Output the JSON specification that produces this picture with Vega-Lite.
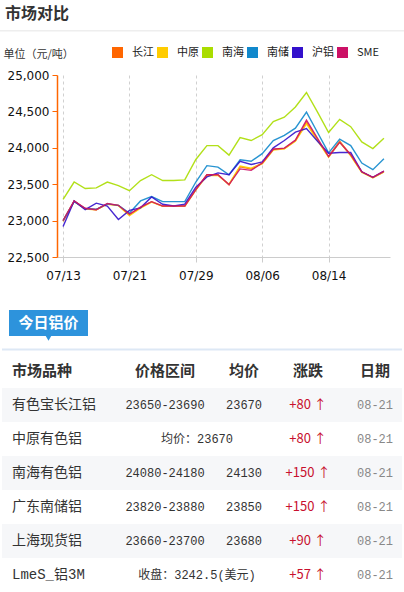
{
"$schema": "https://vega.github.io/schema/vega-lite/v6.json",
"background": "white",
"padding": {"left": 0, "top": 6, "right": 0, "bottom": 0},
"title": {"text": "市场对比", "anchor": "start", "fontSize": 16, "fontWeight": "bold", "font": "Noto Sans CJK SC", "color": "#333333", "offset": 8, "dx": 5},
"spacing": 29,
"resolve": {"scale": {"color": "independent"}, "legend": {"color": "independent"}},
"datasets": {
"lines": [
{"date":"07/13","series":"长江","price":23000},{"date":"07/14","series":"长江","price":23270},{"date":"07/15","series":"长江","price":23165},{"date":"07/16","series":"长江","price":23150},{"date":"07/17","series":"长江","price":23230},{"date":"07/20","series":"长江","price":23210},{"date":"07/21","series":"长江","price":23080},{"date":"07/22","series":"长江","price":23180},{"date":"07/23","series":"长江","price":23260},{"date":"07/24","series":"长江","price":23200},{"date":"07/27","series":"长江","price":23200},{"date":"07/28","series":"长江","price":23200},{"date":"07/29","series":"长江","price":23430},{"date":"07/30","series":"长江","price":23630},{"date":"07/31","series":"长江","price":23630},{"date":"08/03","series":"长江","price":23490},{"date":"08/04","series":"长江","price":23740},{"date":"08/05","series":"长江","price":23710},{"date":"08/06","series":"长江","price":23790},{"date":"08/07","series":"长江","price":23980},{"date":"08/10","series":"长江","price":23990},{"date":"08/11","series":"长江","price":24100},{"date":"08/12","series":"长江","price":24350},{"date":"08/13","series":"长江","price":24110},{"date":"08/14","series":"长江","price":23880},{"date":"08/17","series":"长江","price":24090},{"date":"08/18","series":"长江","price":23900},{"date":"08/19","series":"长江","price":23670},{"date":"08/20","series":"长江","price":23590},{"date":"08/21","series":"长江","price":23670},
{"date":"07/13","series":"中原","price":22990},{"date":"07/14","series":"中原","price":23265},{"date":"07/15","series":"中原","price":23160},{"date":"07/16","series":"中原","price":23150},{"date":"07/17","series":"中原","price":23225},{"date":"07/20","series":"中原","price":23205},{"date":"07/21","series":"中原","price":23070},{"date":"07/22","series":"中原","price":23170},{"date":"07/23","series":"中原","price":23255},{"date":"07/24","series":"中原","price":23195},{"date":"07/27","series":"中原","price":23195},{"date":"07/28","series":"中原","price":23195},{"date":"07/29","series":"中原","price":23420},{"date":"07/30","series":"中原","price":23620},{"date":"07/31","series":"中原","price":23620},{"date":"08/03","series":"中原","price":23500},{"date":"08/04","series":"中原","price":23750},{"date":"08/05","series":"中原","price":23720},{"date":"08/06","series":"中原","price":23780},{"date":"08/07","series":"中原","price":23970},{"date":"08/10","series":"中原","price":23985},{"date":"08/11","series":"中原","price":24090},{"date":"08/12","series":"中原","price":24330},{"date":"08/13","series":"中原","price":24100},{"date":"08/14","series":"中原","price":23870},{"date":"08/17","series":"中原","price":24080},{"date":"08/18","series":"中原","price":23890},{"date":"08/19","series":"中原","price":23660},{"date":"08/20","series":"中原","price":23590},{"date":"08/21","series":"中原","price":23670},
{"date":"07/13","series":"南海","price":23290},{"date":"07/14","series":"南海","price":23530},{"date":"07/15","series":"南海","price":23440},{"date":"07/16","series":"南海","price":23450},{"date":"07/17","series":"南海","price":23530},{"date":"07/20","series":"南海","price":23480},{"date":"07/21","series":"南海","price":23410},{"date":"07/22","series":"南海","price":23550},{"date":"07/23","series":"南海","price":23630},{"date":"07/24","series":"南海","price":23550},{"date":"07/27","series":"南海","price":23550},{"date":"07/28","series":"南海","price":23560},{"date":"07/29","series":"南海","price":23840},{"date":"07/30","series":"南海","price":24030},{"date":"07/31","series":"南海","price":24030},{"date":"08/03","series":"南海","price":23900},{"date":"08/04","series":"南海","price":24140},{"date":"08/05","series":"南海","price":24100},{"date":"08/06","series":"南海","price":24180},{"date":"08/07","series":"南海","price":24360},{"date":"08/10","series":"南海","price":24420},{"date":"08/11","series":"南海","price":24560},{"date":"08/12","series":"南海","price":24760},{"date":"08/13","series":"南海","price":24490},{"date":"08/14","series":"南海","price":24210},{"date":"08/17","series":"南海","price":24390},{"date":"08/18","series":"南海","price":24290},{"date":"08/19","series":"南海","price":24080},{"date":"08/20","series":"南海","price":23990},{"date":"08/21","series":"南海","price":24130},
{"date":"07/13","series":"南储","price":23000},{"date":"07/14","series":"南储","price":23260},{"date":"07/15","series":"南储","price":23165},{"date":"07/16","series":"南储","price":23155},{"date":"07/17","series":"南储","price":23230},{"date":"07/20","series":"南储","price":23210},{"date":"07/21","series":"南储","price":23105},{"date":"07/22","series":"南储","price":23270},{"date":"07/23","series":"南储","price":23330},{"date":"07/24","series":"南储","price":23260},{"date":"07/27","series":"南储","price":23260},{"date":"07/28","series":"南储","price":23260},{"date":"07/29","series":"南储","price":23530},{"date":"07/30","series":"南储","price":23755},{"date":"07/31","series":"南储","price":23735},{"date":"08/03","series":"南储","price":23630},{"date":"08/04","series":"南储","price":23835},{"date":"08/05","series":"南储","price":23815},{"date":"08/06","series":"南储","price":23920},{"date":"08/07","series":"南储","price":24100},{"date":"08/10","series":"南储","price":24170},{"date":"08/11","series":"南储","price":24270},{"date":"08/12","series":"南储","price":24490},{"date":"08/13","series":"南储","price":24210},{"date":"08/14","series":"南储","price":23930},{"date":"08/17","series":"南储","price":24120},{"date":"08/18","series":"南储","price":24030},{"date":"08/19","series":"南储","price":23790},{"date":"08/20","series":"南储","price":23700},{"date":"08/21","series":"南储","price":23850},
{"date":"07/13","series":"沪铝","price":22920},{"date":"07/14","series":"沪铝","price":23270},{"date":"07/15","series":"沪铝","price":23150},{"date":"07/16","series":"沪铝","price":23240},{"date":"07/17","series":"沪铝","price":23200},{"date":"07/20","series":"沪铝","price":23015},{"date":"07/21","series":"沪铝","price":23140},{"date":"07/22","series":"沪铝","price":23175},{"date":"07/23","series":"沪铝","price":23325},{"date":"07/24","series":"沪铝","price":23225},{"date":"07/27","series":"沪铝","price":23200},{"date":"07/28","series":"沪铝","price":23225},{"date":"07/29","series":"沪铝","price":23460},{"date":"07/30","series":"沪铝","price":23600},{"date":"07/31","series":"沪铝","price":23655},{"date":"08/03","series":"沪铝","price":23630},{"date":"08/04","series":"沪铝","price":23815},{"date":"08/05","series":"沪铝","price":23770},{"date":"08/06","series":"沪铝","price":23805},{"date":"08/07","series":"沪铝","price":24000},{"date":"08/10","series":"沪铝","price":24100},{"date":"08/11","series":"沪铝","price":24215},{"date":"08/12","series":"沪铝","price":24265},{"date":"08/13","series":"沪铝","price":24090},{"date":"08/14","series":"沪铝","price":23925},{"date":"08/17","series":"沪铝","price":23935},{"date":"08/18","series":"沪铝","price":23935},{"date":"08/19","series":"沪铝","price":23670},{"date":"08/20","series":"沪铝","price":23595},{"date":"08/21","series":"沪铝","price":23680},
{"date":"07/13","series":"SME","price":23000},{"date":"07/14","series":"SME","price":23270},{"date":"07/15","series":"SME","price":23170},{"date":"07/16","series":"SME","price":23150},{"date":"07/17","series":"SME","price":23235},{"date":"07/20","series":"SME","price":23210},{"date":"07/21","series":"SME","price":23090},{"date":"07/22","series":"SME","price":23185},{"date":"07/23","series":"SME","price":23260},{"date":"07/24","series":"SME","price":23200},{"date":"07/27","series":"SME","price":23200},{"date":"07/28","series":"SME","price":23200},{"date":"07/29","series":"SME","price":23425},{"date":"07/30","series":"SME","price":23630},{"date":"07/31","series":"SME","price":23630},{"date":"08/03","series":"SME","price":23495},{"date":"08/04","series":"SME","price":23710},{"date":"08/05","series":"SME","price":23690},{"date":"08/06","series":"SME","price":23790},{"date":"08/07","series":"SME","price":23980},{"date":"08/10","series":"SME","price":23995},{"date":"08/11","series":"SME","price":24105},{"date":"08/12","series":"SME","price":24380},{"date":"08/13","series":"SME","price":24130},{"date":"08/14","series":"SME","price":23880},{"date":"08/17","series":"SME","price":24075},{"date":"08/18","series":"SME","price":23905},{"date":"08/19","series":"SME","price":23670},{"date":"08/20","series":"SME","price":23595},{"date":"08/21","series":"SME","price":23680}
],
"table": [
{"row":0,"col":0,"kind":"head","text":"市场品种"},
{"row":0,"col":1,"kind":"head","text":"价格区间"},
{"row":0,"col":2,"kind":"head","text":"均价"},
{"row":0,"col":3,"kind":"head","text":"涨跌"},
{"row":0,"col":4,"kind":"head","text":"日期"},
{"row":1,"col":0,"kind":"name","text":"有色宝长江铝"},
{"row":1,"col":1,"kind":"num","text":"23650-23690"},
{"row":1,"col":2,"kind":"num","text":"23670"},
{"row":1,"col":3,"kind":"chg","text":"+80 ↑"},
{"row":1,"col":4,"kind":"date","text":"08-21"},
{"row":2,"col":0,"kind":"name","text":"中原有色铝"},
{"row":2,"col":1.5,"kind":"num","text":"均价：23670"},
{"row":2,"col":3,"kind":"chg","text":"+80 ↑"},
{"row":2,"col":4,"kind":"date","text":"08-21"},
{"row":3,"col":0,"kind":"name","text":"南海有色铝"},
{"row":3,"col":1,"kind":"num","text":"24080-24180"},
{"row":3,"col":2,"kind":"num","text":"24130"},
{"row":3,"col":3,"kind":"chg","text":"+150 ↑"},
{"row":3,"col":4,"kind":"date","text":"08-21"},
{"row":4,"col":0,"kind":"name","text":"广东南储铝"},
{"row":4,"col":1,"kind":"num","text":"23820-23880"},
{"row":4,"col":2,"kind":"num","text":"23850"},
{"row":4,"col":3,"kind":"chg","text":"+150 ↑"},
{"row":4,"col":4,"kind":"date","text":"08-21"},
{"row":5,"col":0,"kind":"name","text":"上海现货铝"},
{"row":5,"col":1,"kind":"num","text":"23660-23700"},
{"row":5,"col":2,"kind":"num","text":"23680"},
{"row":5,"col":3,"kind":"chg","text":"+90 ↑"},
{"row":5,"col":4,"kind":"date","text":"08-21"},
{"row":6,"col":0,"kind":"name","text":"LmeS_铝3M"},
{"row":6,"col":1.5,"kind":"num","text":"收盘：3242.5(美元)"},
{"row":6,"col":3,"kind":"chg","text":"+57 ↑"},
{"row":6,"col":4,"kind":"date","text":"08-21"}
],
"tab": [{"tab": "今日铝价"}],
"sep": [{"part": "separator"}]
},
"vconcat": [
{
"width": 333, "height": 182,
"resolve": {"scale": {"x": "independent", "y": "independent"}},
"layer": [
{
"data": {"name": "lines"},
"mark": {"type": "line", "strokeWidth": 1.4, "opacity": 0.9},
"encoding": {
"x": {"field": "date", "type": "ordinal", "sort": null, "scale": {"type": "point", "padding": 0.55},
"axis": {"orient": "bottom", "values": ["07/13","07/21","07/29","08/06","08/14"], "labelAngle": 0, "title": null, "grid": true, "gridDash": [3,3], "gridColor": "#d0d0d0", "domainColor": "#cccccc", "tickColor": "#cccccc", "tickSize": 5, "labelPadding": 8, "labelFontSize": 12, "labelColor": "#111111", "labelFont": "DejaVu Sans"}},
"y": {"field": "price", "type": "quantitative", "scale": {"domain": [22500, 25000], "nice": false, "zero": false},
"axis": {"orient": "left", "values": [22500,23000,23500,24000,24500,25000], "format": ",d", "grid": false, "domainColor": "#ff6600", "domainWidth": 1.5, "tickColor": "#ff6600", "tickSize": 5, "labelPadding": 3, "labelFontSize": 12, "labelColor": "#111111", "labelFont": "DejaVu Sans", "title": "单位（元/吨）", "titleAngle": 0, "titleAlign": "left", "titleBaseline": "middle", "titleX": -54, "titleY": -21, "titleFontSize": 11, "titleFontWeight": "normal", "titleFont": "Noto Sans CJK SC", "titleColor": "#333333"}},
"color": {"field": "series", "type": "nominal",
"scale": {"domain": ["长江","中原","南海","南储","沪铝","SME"], "range": ["#ff6600","#ffcc00","#aadd00","#1188cc","#3311cc","#cc1166"]},
"legend": {"orient": "none", "legendX": 55, "legendY": -28, "direction": "horizontal", "title": null, "symbolType": "square", "symbolSize": 1, "symbolStrokeWidth": 10, "symbolOpacity": 1, "labelFontSize": 11, "labelFont": "Noto Sans CJK SC", "labelColor": "#222222", "columnPadding": -12, "labelOffset": 9}}
}
},
{
"data": {"name": "sep"},
"mark": {"type": "rect", "color": "#eeeeee"},
"encoding": {
"x": {"field": "part", "type": "nominal", "scale": {"type": "band", "range": [-57, 347], "paddingInner": 0, "paddingOuter": 0}, "axis": null},
"y": {"field": "part", "type": "nominal", "scale": {"type": "band", "range": [-45, -43.6], "paddingInner": 0, "paddingOuter": 0}, "axis": null}
}
}
]
},
{
"width": 347, "height": 282,
"data": {"name": "table"},
"resolve": {"scale": {"x": "independent", "y": "independent"}},
"layer": [
{"transform": [{"filter": "datum.kind == 'name' && datum.row % 2 == 1"}],
"mark": {"type": "rect", "color": "#f6f7f9"},
"encoding": {"x": {"field": "kind", "type": "nominal", "scale": {"type": "band", "range": [-55, 345], "paddingInner": 0, "paddingOuter": 0}, "axis": null},
"y": {"field": "row", "type": "ordinal", "scale": {"type": "band", "domain": [0,1,2,3,4,5,6], "range": [44, 282], "paddingInner": 0, "paddingOuter": 0}, "axis": null}}},
{"transform": [{"filter": "datum.row == 0 && datum.col == 0"}],
"mark": {"type": "rect", "color": "#dde8f5"},
"encoding": {"x": {"field": "kind", "type": "nominal", "scale": {"type": "band", "range": [-55, 345], "paddingInner": 0, "paddingOuter": 0}, "axis": null},
"y": {"field": "kind", "type": "nominal", "scale": {"type": "band", "range": [38.5, 40.5], "paddingInner": 0, "paddingOuter": 0}, "axis": null}}},
{"data": {"name": "tab"},
"mark": {"type": "rect", "color": "#2d93dc"},
"encoding": {"x": {"field": "tab", "type": "nominal", "scale": {"type": "band", "range": [-48, 31], "paddingInner": 0, "paddingOuter": 0}, "axis": null},
"y": {"field": "tab", "type": "nominal", "scale": {"type": "band", "range": [0, 26], "paddingInner": 0, "paddingOuter": 0}, "axis": null}}},
{"data": {"name": "tab"},
"mark": {"type": "point", "shape": "triangle-down", "filled": true, "color": "#2d93dc", "size": 40, "yOffset": 15, "opacity": 1},
"encoding": {"x": {"field": "tab", "type": "nominal", "scale": {"type": "band", "range": [-48, 31], "paddingInner": 0, "paddingOuter": 0}, "axis": null},
"y": {"field": "tab", "type": "nominal", "scale": {"type": "band", "range": [0, 26], "paddingInner": 0, "paddingOuter": 0}, "axis": null}}},
{"data": {"name": "tab"},
"mark": {"type": "text", "color": "#ffffff", "fontSize": 15, "fontWeight": "bold", "font": "Noto Sans CJK SC", "baseline": "middle"},
"encoding": {"x": {"field": "tab", "type": "nominal", "scale": {"type": "band", "range": [-48, 31], "paddingInner": 0, "paddingOuter": 0}, "axis": null},
"y": {"field": "tab", "type": "nominal", "scale": {"type": "band", "range": [0, 26], "paddingInner": 0, "paddingOuter": 0}, "axis": null},
"text": {"field": "tab"}}},
{"transform": [{"filter": "datum.kind == 'head' && datum.col == 0"}],
"mark": {"type": "text", "align": "left", "baseline": "middle", "fontSize": 15, "fontWeight": "bold", "font": "Noto Sans CJK SC", "color": "#333333"},
"encoding": {"x": {"field": "col", "type": "quantitative", "scale": {"domain": [0,1,1.5,2,3,4], "range": [-45,108,140,187,251,318]}, "axis": null},
"y": {"field": "row", "type": "ordinal", "scale": {"type": "band", "domain": [0,1,2,3,4,5,6], "range": [44, 282], "paddingInner": 0, "paddingOuter": 0}, "axis": null},
"text": {"field": "text"}}},
{"transform": [{"filter": "datum.kind == 'head' && datum.col > 0"}],
"mark": {"type": "text", "align": "center", "baseline": "middle", "fontSize": 15, "fontWeight": "bold", "font": "Noto Sans CJK SC", "color": "#333333"},
"encoding": {"x": {"field": "col", "type": "quantitative", "scale": {"domain": [0,1,1.5,2,3,4], "range": [-45,108,140,187,251,318]}, "axis": null},
"y": {"field": "row", "type": "ordinal", "scale": {"type": "band", "domain": [0,1,2,3,4,5,6], "range": [44, 282], "paddingInner": 0, "paddingOuter": 0}, "axis": null},
"text": {"field": "text"}}},
{"transform": [{"filter": "datum.kind == 'name'"}],
"mark": {"type": "text", "align": "left", "baseline": "middle", "fontSize": 14, "font": "Liberation Mono, Noto Sans CJK SC", "color": "#333333"},
"encoding": {"x": {"field": "col", "type": "quantitative", "scale": {"domain": [0,1,1.5,2,3,4], "range": [-45,108,140,187,251,318]}, "axis": null},
"y": {"field": "row", "type": "ordinal", "scale": {"type": "band", "domain": [0,1,2,3,4,5,6], "range": [44, 282], "paddingInner": 0, "paddingOuter": 0}, "axis": null},
"text": {"field": "text"}}},
{"transform": [{"filter": "datum.kind == 'num'"}],
"mark": {"type": "text", "align": "center", "baseline": "middle", "fontSize": 12, "font": "Liberation Mono, Noto Sans CJK SC", "color": "#333333"},
"encoding": {"x": {"field": "col", "type": "quantitative", "scale": {"domain": [0,1,1.5,2,3,4], "range": [-45,108,140,187,251,318]}, "axis": null},
"y": {"field": "row", "type": "ordinal", "scale": {"type": "band", "domain": [0,1,2,3,4,5,6], "range": [44, 282], "paddingInner": 0, "paddingOuter": 0}, "axis": null},
"text": {"field": "text"}}},
{"transform": [{"filter": "datum.kind == 'chg'"}],
"mark": {"type": "text", "align": "center", "baseline": "middle", "fontSize": 13, "font": "Noto Sans CJK SC", "color": "#c8102e"},
"encoding": {"x": {"field": "col", "type": "quantitative", "scale": {"domain": [0,1,1.5,2,3,4], "range": [-45,108,140,187,251,318]}, "axis": null},
"y": {"field": "row", "type": "ordinal", "scale": {"type": "band", "domain": [0,1,2,3,4,5,6], "range": [44, 282], "paddingInner": 0, "paddingOuter": 0}, "axis": null},
"text": {"field": "text"}}},
{"transform": [{"filter": "datum.kind == 'date'"}],
"mark": {"type": "text", "align": "center", "baseline": "middle", "fontSize": 12, "font": "Liberation Mono", "color": "#888888"},
"encoding": {"x": {"field": "col", "type": "quantitative", "scale": {"domain": [0,1,1.5,2,3,4], "range": [-45,108,140,187,251,318]}, "axis": null},
"y": {"field": "row", "type": "ordinal", "scale": {"type": "band", "domain": [0,1,2,3,4,5,6], "range": [44, 282], "paddingInner": 0, "paddingOuter": 0}, "axis": null},
"text": {"field": "text"}}}
]
}
],
"config": {"view": {"stroke": null}, "font": "DejaVu Sans"}
}
